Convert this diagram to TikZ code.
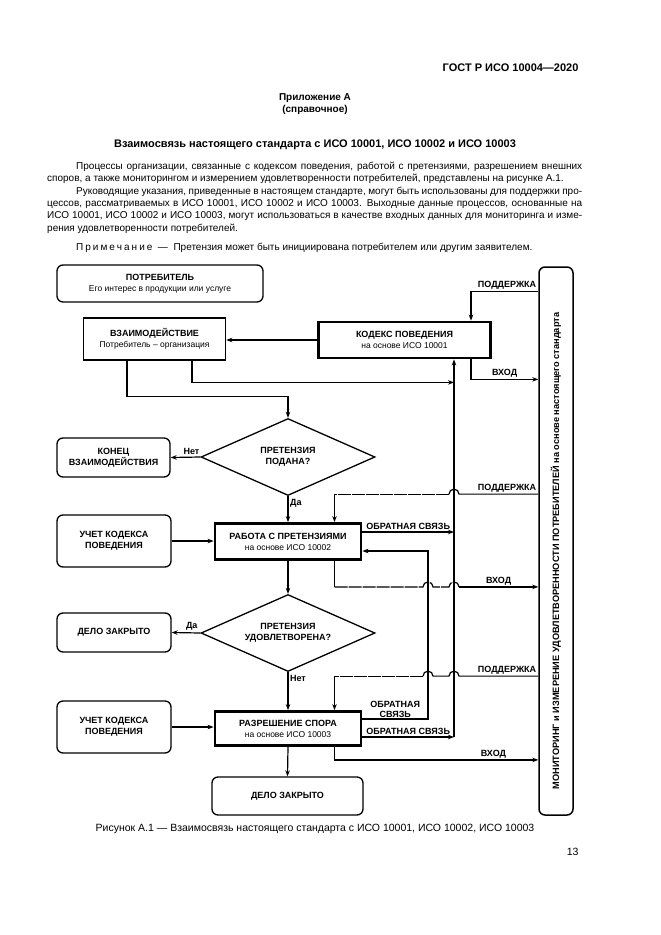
\documentclass[tikz,border=0pt]{standalone}
\usepackage{fontspec}
\setmainfont{Liberation Sans}
\usetikzlibrary{positioning,shapes.geometric,arrows.meta}
\newcommand\subline[1]{{\fontsize{8.5}{10}\selectfont\mdseries #1}}
\newcommand\loosen{\hyphenpenalty=10000\relax\spaceskip=.278em plus .25em minus .1em\relax}

\begin{document}
\begin{tikzpicture}[
        x=1pt, y=-1pt,
        >={Stealth[length=6pt,width=4.5pt]},
        card/.style={
            rectangle,
            draw,
            line width=1.3pt,
            rounded corners=6pt,
            align=center,
            inner sep=1pt,
            font=\fontsize{9}{11}\selectfont\bfseries
        },
        plainbox/.style={card, sharp corners, line width=1.5pt},
        isobox/.style={card, sharp corners, line width=2.8pt},
        query/.style={
            diamond,
            draw,
            line width=1.3pt,
            aspect=2.25,
            inner sep=0pt,
            minimum width=174pt,
            minimum height=77pt,
            align=center,
            font=\fontsize{9}{11}\selectfont\bfseries
        },
        flow/.style={->, line width=1.2pt},
        wire/.style={line width=1.2pt},
        broken/.style={wire, dash pattern=on 13pt off 1pt},
        tag/.style={font=\fontsize{9}{10}\selectfont\bfseries, inner sep=1.5pt},
        body/.style={font=\fontsize{10}{12.2}\selectfont, text width=535pt, align=justify, inner sep=0pt, anchor=north west}
    ]

    \fill[white] (0,0) rectangle (661,935);
    \useasboundingbox (0,0) rectangle (661,935);

    % =================================================
    % PAGE TEXT
    % =================================================

    \node[font=\fontsize{11}{13}\selectfont\bfseries, anchor=east] (gost) at (582, 68) {ГОСТ Р ИСО 10004—2020};
    \node[font=\fontsize{10}{12}\selectfont\bfseries, align=center] (annex) at (315, 104) {Приложение А\\(справочное)};
    \node[font=\fontsize{11}{13}\selectfont\bfseries] (heading) at (315, 145) {Взаимосвязь настоящего стандарта с ИСО 10001, ИСО 10002 и ИСО 10003};

    \node[body] (para1) at (47, 162) {\loosen\hspace*{29pt}Процессы организации, связанные с кодексом поведения, работой с претензиями, разрешением внешних\linebreak споров, а также мониторингом и измерением удовлетворенности потребителей, представлены на рисунке А.1.};
    \node[body] (para2) at (47, 187) {\loosen\hspace*{29pt}Руководящие указания, приведенные в настоящем стандарте, могут быть использованы для поддержки про-\linebreak цессов, рассматриваемых в ИСО 10001, ИСО 10002 и ИСО 10003. Выходные данные процессов, основанные на\linebreak ИСО 10001, ИСО 10002 и ИСО 10003, могут использоваться в качестве входных данных для мониторинга и изме-\linebreak рения удовлетворенности потребителей.};
    \node[body] (remark) at (47, 243) {\loosen\hspace*{29pt}П\kern2pt р\kern2pt и\kern2pt м\kern2pt е\kern2pt ч\kern2pt а\kern2pt н\kern2pt и\kern2pt е \ — \ Претензия может быть инициирована потребителем или другим заявителем.};

    % =================================================
    % MAIN FLOW
    % =================================================

    \node[card, minimum width=206pt, minimum height=37pt] (client) at (160, 283.5) {ПОТРЕБИТЕЛЬ\\ \subline{Его интерес в продукции или услуге}};
    \node[plainbox, minimum width=142pt, minimum height=42pt] (contact) at (154.5, 339) {ВЗАИМОДЕЙСТВИЕ\\ \subline{Потребитель – организация}};
    \node[isobox, minimum width=172pt, minimum height=36pt] (code) at (404.5, 340) {КОДЕКС ПОВЕДЕНИЯ\\ \subline{на основе ИСО 10001}};

    \node[query] (claim) at (288, 457) {ПРЕТЕНЗИЯ\\ПОДАНА?};
    \node[card, minimum width=113pt, minimum height=39pt] (stop) at (113.5, 457.5) {КОНЕЦ\\ВЗАИМОДЕЙСТВИЯ};

    \node[card, minimum width=114pt, minimum height=52pt] (rules1) at (114, 541) {УЧЕТ КОДЕКСА\\ПОВЕДЕНИЯ};
    \node[isobox, minimum width=146pt, minimum height=36pt] (handling) at (288, 541.5) {РАБОТА С ПРЕТЕНЗИЯМИ\\ \subline{на основе ИСО 10002}};

    \node[query] (solved) at (288, 633) {ПРЕТЕНЗИЯ\\УДОВЛЕТВОРЕНА?};
    \node[card, minimum width=114pt, minimum height=39pt] (closed1) at (114, 632.5) {ДЕЛО ЗАКРЫТО};

    \node[card, minimum width=114pt, minimum height=52pt] (rules2) at (114, 727) {УЧЕТ КОДЕКСА\\ПОВЕДЕНИЯ};
    \node[isobox, minimum width=146pt, minimum height=34pt] (dispute) at (288, 728.5) {РАЗРЕШЕНИЕ СПОРА\\ \subline{на основе ИСО 10003}};
    \node[card, minimum width=151pt, minimum height=38pt] (closed2) at (287.5, 796) {ДЕЛО ЗАКРЫТО};

    \draw[flow] (code.west) -- (code.west -| contact.east);
    \draw[flow] ([xshift=-27.5pt]contact.south) |- ([yshift=21pt]claim.north) -- (claim.north);
    \draw[flow] (claim.west) -- node[tag, above, pos=0.3] {Нет} (stop.east);
    \draw[flow] (claim.south) -- node[tag, right, pos=0.28] {Да} (handling.north);
    \draw[flow] (rules1.east) -- (rules1.east -| handling.west);
    \draw[flow] (handling.south) -- (solved.north);
    \draw[flow] (solved.west) -- node[tag, above, pos=0.3] {Да} (closed1.east);
    \draw[flow] (solved.south) -- node[tag, right, pos=0.17] {Нет} (dispute.north);
    \draw[flow] (rules2.east) -- (rules2.east -| dispute.west);
    \draw[flow] (dispute.south) -- (closed2.north);

    % =================================================
    % FEEDBACK LINES
    % =================================================

    \coordinate (A) at ([xshift=49.5pt]code.south);
    \coordinate (B) at ([xshift=140pt]dispute.north);

    \draw[flow] ([xshift=37.5pt]contact.south) |- ([yshift=-23pt]code.south -| A);
    \draw[flow] ([yshift=9.5pt]handling.east) -- node[tag, above] {ОБРАТНАЯ СВЯЗЬ} ([yshift=9.5pt]handling.east -| A);
    \draw[flow] ([yshift=9.5pt]dispute.east) -| node[tag, pos=0.25, above, align=center, inner sep=1pt] {ОБРАТНАЯ\\СВЯЗЬ} ([yshift=-9.5pt]handling.east -| B) -- ([yshift=-9.5pt]handling.east);
    \draw[flow] ([yshift=-8.5pt]dispute.east) -- node[tag, above] {ОБРАТНАЯ СВЯЗЬ} ([yshift=-8.5pt]dispute.east -| A);
    \draw[flow] ([yshift=-8.5pt]dispute.east -| A) -- (A);

    % =================================================
    % MONITORING (right bar)
    % =================================================

    \node[card, line width=1.5pt, minimum width=34pt, minimum height=548pt] (monitor) at (556, 541) {};
    \node[font=\fontsize{9.2}{10}\selectfont\bfseries, rotate=90] (monitortext) at (556, 551) {МОНИТОРИНГ и ИЗМЕРЕНИЕ УДОВЛЕТВОРЕННОСТИ ПОТРЕБИТЕЛЕЙ на основе настоящего стандарта};

    % Support and input for the code of conduct
    \draw[flow] ([yshift=29pt]code.north -| monitor.west) node[tag, above left] {ПОДДЕРЖКА} -| ([xshift=66.5pt]code.north);
    \draw[flow] ([xshift=66.5pt]code.south) |- node[tag, pos=0.75, above] {ВХОД} ([yshift=-20pt]code.south -| monitor.west);

    % Support and input for complaints handling
    \coordinate (h2) at ([xshift=46.5pt]handling.north);
    \coordinate (s2) at ([yshift=28pt]h2);
    \draw[wire] (s2 -| monitor.west) node[tag, above left] {ПОДДЕРЖКА} -- ([xshift=5pt]s2 -| A) arc[start angle=0, end angle=180, radius=5pt];
    \draw[broken] ([xshift=-5pt]s2 -| A) -- (s2);
    \draw[flow] (s2) -- (h2);

    \coordinate (h3) at ([xshift=46.5pt]handling.south);
    \coordinate (i2) at ([yshift=-26pt]h3);
    \draw[wire] (h3) -- (i2);
    \draw[broken] (i2) -- ([xshift=-5pt]i2 -| B) arc[start angle=180, end angle=0, radius=5pt] -- ([xshift=-5pt]i2 -| A) arc[start angle=180, end angle=0, radius=5pt];
    \draw[flow] ([xshift=5pt]i2 -| A) -- node[tag, above] {ВХОД} (i2 -| monitor.west);

    % Support and input for dispute resolution
    \coordinate (h4) at ([xshift=46.5pt]dispute.north);
    \coordinate (s3) at ([yshift=34pt]h4);
    \draw[wire] (s3 -| monitor.west) node[tag, above left] {ПОДДЕРЖКА} -- ([xshift=5pt]s3 -| A) arc[start angle=0, end angle=180, radius=5pt] -- ([xshift=5pt]s3 -| B) arc[start angle=0, end angle=180, radius=5pt];
    \draw[broken] ([xshift=-5pt]s3 -| B) -- (s3);
    \draw[flow] (s3) -- (h4);

    \coordinate (h5) at ([xshift=46.5pt]dispute.south);
    \draw[flow] (h5) |- node[tag, pos=0.89, above] {ВХОД} ([yshift=-13pt]h5 -| monitor.west);

    % =================================================
    % CAPTION
    % =================================================

    \node[font=\fontsize{10.5}{12}\selectfont] (caption) at (315, 829) {Рисунок А.1 — Взаимосвязь настоящего стандарта с ИСО 10001, ИСО 10002, ИСО 10003};
    \node[font=\fontsize{10.5}{12}\selectfont, anchor=east] (pageno) at (582, 852) {13};

\end{tikzpicture}
\end{document}
